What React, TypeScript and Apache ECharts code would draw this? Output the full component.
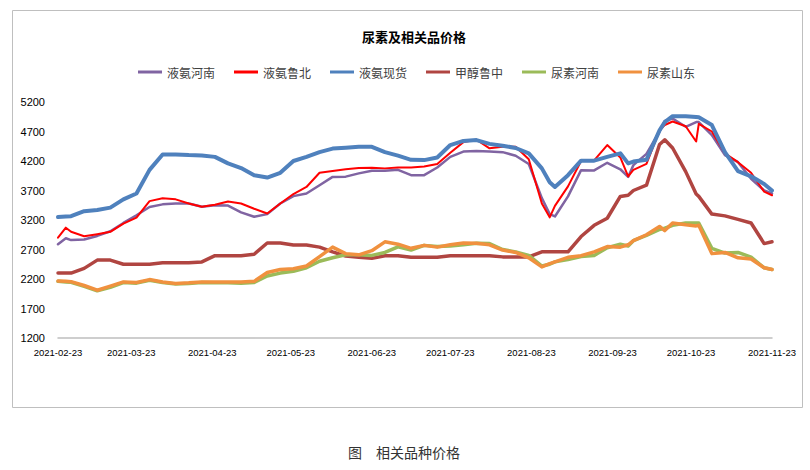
import React, { useEffect, useRef } from "react";
import * as echarts from "echarts";

const dates = [
  "2021-02-23","2021-02-26","2021-02-28","2021-03-05","2021-03-10","2021-03-15","2021-03-20","2021-03-25","2021-03-30",
  "2021-04-04","2021-04-09","2021-04-14","2021-04-19","2021-04-24","2021-04-29",
  "2021-05-04","2021-05-09","2021-05-14","2021-05-19","2021-05-24","2021-05-29",
  "2021-06-03","2021-06-08","2021-06-13","2021-06-18","2021-06-23","2021-06-28",
  "2021-07-03","2021-07-08","2021-07-13","2021-07-18","2021-07-23","2021-07-28",
  "2021-08-02","2021-08-07","2021-08-12","2021-08-17","2021-08-22","2021-08-27","2021-08-30",
  "2021-09-01","2021-09-06","2021-09-11","2021-09-16","2021-09-21","2021-09-26","2021-09-29",
  "2021-10-01","2021-10-06","2021-10-11","2021-10-13","2021-10-16","2021-10-21","2021-10-25","2021-10-26","2021-10-31",
  "2021-11-05","2021-11-10","2021-11-15","2021-11-20","2021-11-23",
];

const tickDates = [
  "2021-02-23","2021-03-23","2021-04-23","2021-05-23","2021-06-23",
  "2021-07-23","2021-08-23","2021-09-23","2021-10-23","2021-11-23",
];

const seriesNames = ["液氨河南", "液氨鲁北", "液氨现货", "甲醇鲁中", "尿素河南", "尿素山东"];

const yeAnHenan = [
  2790,2890,2860,2870,2930,3010,3150,3280,3420,3465,
  3480,3480,3425,3450,3445,3330,3255,3300,3480,3605,
  3650,3790,3930,3935,3990,4035,4035,4050,3960,3960,
  4090,4270,4360,4370,4360,4350,4290,4150,3570,3300,
  3260,3600,4045,4040,4170,4060,3930,4130,4320,4700,
  4880,4920,4780,4860,4860,4640,4300,4180,3900,3700,
  3650,
];

const yeAnLubei = [
  2900,3070,3000,2925,2960,3000,3140,3240,3520,3570,
  3550,3480,3425,3460,3515,3480,3390,3310,3480,3640,
  3760,4000,4030,4060,4080,4085,4075,4090,4090,4105,
  4150,4340,4520,4560,4415,4440,4440,4230,3480,3245,
  3440,3770,4200,4210,4470,4260,3940,4050,4150,4720,
  4810,4870,4790,4530,4830,4700,4330,4180,4000,3680,
  3620,
];

const yeAnSpot = [
  3250,3260,3265,3350,3370,3410,3550,3650,4050,4310,
  4310,4300,4295,4270,4160,4080,3960,3920,4000,4200,
  4270,4350,4410,4425,4440,4440,4350,4290,4220,4215,
  4260,4470,4540,4555,4490,4460,4420,4330,4075,3840,
  3760,3960,4205,4205,4270,4330,4160,4190,4220,4720,
  4860,4960,4960,4945,4940,4810,4350,4030,3940,3810,
  3700,
];

const methanolLuzhong = [
  2300,2300,2300,2380,2520,2520,2450,2450,2450,2475,
  2475,2475,2490,2595,2595,2595,2620,2810,2810,2775,
  2775,2740,2660,2590,2570,2550,2595,2595,2567,2567,
  2567,2595,2595,2595,2595,2575,2575,2575,2660,2660,
  2660,2660,2920,3110,3230,3600,3620,3700,3790,4480,
  4560,4420,4020,3640,3600,3300,3270,3210,3150,2800,
  2830,
];

const ureaHenan = [
  2160,2150,2145,2075,2000,2060,2140,2130,2180,2140,
  2115,2125,2140,2135,2135,2130,2140,2250,2300,2330,
  2390,2500,2560,2610,2610,2600,2650,2745,2690,2770,
  2750,2760,2780,2805,2800,2700,2660,2600,2420,2450,
  2490,2530,2580,2600,2730,2790,2760,2850,2940,3040,
  3060,3110,3150,3150,3150,2720,2640,2650,2570,2390,
  2360,
];

const ureaShandong = [
  2165,2160,2155,2090,2010,2080,2150,2140,2190,2150,
  2125,2135,2150,2150,2150,2150,2160,2310,2360,2375,
  2420,2580,2740,2630,2610,2680,2830,2790,2720,2770,
  2740,2780,2810,2805,2780,2690,2650,2560,2405,2460,
  2490,2567,2595,2660,2750,2740,2780,2850,2950,3090,
  3020,3150,3120,3100,3110,2630,2650,2560,2540,2390,
  2360,
];

const seriesValues = [yeAnHenan, yeAnLubei, yeAnSpot, methanolLuzhong, ureaHenan, ureaShandong];
const seriesColors = ["#8064A2", "#FF0000", "#4F81BD", "#B04541", "#9BBB59", "#F0913F"];
const seriesWidths = [2.5, 2, 4, 3.5, 3.5, 3.5];

const yTicks = { min: 1200, max: 5200, interval: 500 };

const DAY = 86400000;
const ts = (s: string) => {
  const [y, m, d] = s.split("-").map(Number);
  return Date.UTC(y, m - 1, d) / DAY;
};
const pad = (n: number) => (n < 10 ? "0" + n : "" + n);
const fmt = (v: number) => {
  const d = new Date(Math.round(v) * DAY);
  return d.getUTCFullYear() + "-" + pad(d.getUTCMonth() + 1) + "-" + pad(d.getUTCDate());
};

const SANS = "'Liberation Sans', Arial, sans-serif";
const CJK = "'Noto Sans CJK SC', sans-serif";

export default function App() {
  const ref = useRef<HTMLDivElement>(null);
  useEffect(() => {
    if (!ref.current) return;
    const chart = echarts.init(ref.current, undefined, { renderer: "svg" });
    const tickVals = tickDates.map(ts);
    const option: any = {
      animation: false,
      backgroundColor: "#ffffff",
      title: {
        text: "尿素及相关品价格",
        left: 357,
        top: 25,
        textStyle: { fontSize: 13, fontWeight: "bold", color: "#000", fontFamily: CJK },
      },
      legend: {
        left: 133,
        top: 61,
        icon: "rect",
        itemWidth: 24,
        itemHeight: 3,
        itemGap: 19,
        textStyle: { fontSize: 12, color: "#404040", fontFamily: CJK },
        data: seriesNames,
      },
      grid: { left: 58, right: 38, top: 102, bottom: 132, containLabel: false },
      xAxis: {
        type: "value",
        min: tickVals[0],
        max: tickVals[tickVals.length - 1],
        axisLine: { show: true, onZero: false, lineStyle: { color: "#BFBFBF", width: 1.5 } },
        axisTick: { show: false },
        splitLine: { show: false },
        axisLabel: {
          customValues: tickVals,
          formatter: (v: number) => fmt(v),
          fontSize: 9.5,
          color: "#000",
          margin: 9,
          fontFamily: SANS,
          hideOverlap: false,
        },
      },
      yAxis: {
        type: "value",
        min: yTicks.min,
        max: yTicks.max,
        interval: yTicks.interval,
        axisLine: { show: false },
        axisTick: { show: false },
        splitLine: { show: false },
        axisLabel: {
          formatter: (v: number) => String(v),
          fontSize: 11,
          color: "#000",
          margin: 13,
          fontFamily: SANS,
        },
      },
      series: seriesNames.map((name, i) => ({
        name,
        type: "line",
        showSymbol: false,
        symbol: "none",
        color: seriesColors[i],
        lineStyle: { color: seriesColors[i], width: seriesWidths[i], cap: "round", join: "round" },
        data: dates.map((d, j) => [ts(d), seriesValues[i][j]]),
      })),
      graphic: [
        {
          type: "rect",
          shape: { x: 12.5, y: 10.5, width: 790, height: 397 },
          style: { fill: "none", stroke: "#BFBFBF", lineWidth: 1 },
          silent: true,
        },
        {
          type: "text",
          x: 348,
          y: 452,
          style: {
            text: "图\u3000相关品种价格",
            fontSize: 14,
            fontFamily: CJK,
            fill: "#333",
            verticalAlign: "middle",
          },
          silent: true,
        },
      ],
    };
    chart.setOption(option);
    return () => chart.dispose();
  }, []);
  return (
    <div
      ref={ref}
      style={{ position: "absolute", left: 0, top: 0, width: 810, height: 470, background: "#fff" }}
    />
  );
}
